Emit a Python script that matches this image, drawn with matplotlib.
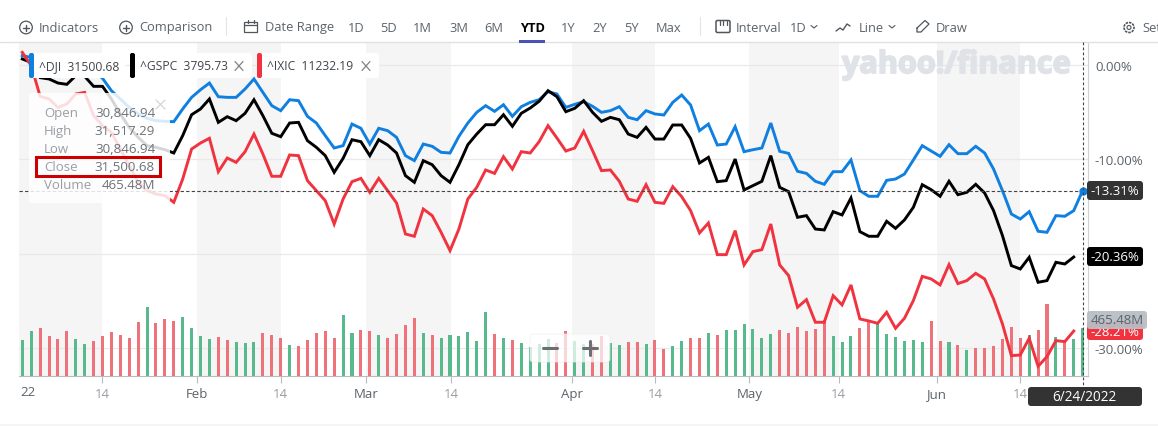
import matplotlib
matplotlib.use("Agg")
import matplotlib.pyplot as plt
import matplotlib.patheffects as pe
from matplotlib.patches import Circle, FancyBboxPatch, Rectangle

plt.rcParams['font.family'] = ['Open Sans', 'DejaVu Sans']

# percent change since the start of the year, one value per trading day
dji = [0.99, 0.81, 0.28, 0.11, -0.25, -0.25, 0.28, 0.11, -0.60, -1.41,
       -2.72, -3.60, -4.49, -5.19, -5.65, -5.90, -5.97, -6.01, -4.66, -3.43,
       -2.62, -1.91, -3.36, -3.43, -3.43, -2.54, -1.48, -2.90, -4.31, -4.84,
       -3.68, -3.78, -5.44, -6.15, -7.49, -8.80, -8.55, -6.26, -6.71, -8.38,
       -6.71, -6.96, -7.67, -9.61, -10.14, -8.38, -8.62, -9.26, -9.33, -7.56,
       -6.15, -5.02, -4.31, -4.91, -4.21, -5.44, -4.42, -3.96, -3.68, -2.83,
       -3.07, -4.49, -4.17, -3.89, -4.38, -5.02, -4.84, -4.42, -5.55, -5.80,
       -4.84, -5.19, -5.30, -3.96, -3.18, -4.24, -6.96, -6.26, -8.48, -8.38,
       -6.54, -9.19, -8.98, -8.80, -6.15, -9.15, -9.37, -11.27, -11.49, -12.33,
       -12.65, -11.31, -11.31, -10.07, -13.32, -13.92, -13.92, -12.23, -12.09, -11.56,
       -10.07, -8.55, -9.12, -9.68, -8.45, -9.40, -9.40, -8.62, -9.33, -11.03,
       -13.32, -15.80, -16.33, -15.55, -17.63, -17.74, -15.97, -16.04, -15.44, -13.31]
gspc = [0.64, 0.28, -1.34, -1.48, -1.91, -2.05, -1.13, -1.20, -2.26, -2.26,
        -3.60, -5.19, -6.61, -7.67, -8.55, -8.73, -8.98, -9.33, -7.49, -5.27,
        -4.66, -3.60, -6.08, -5.48, -5.90, -5.12, -3.68, -5.37, -7.24, -7.60,
        -6.15, -6.08, -8.02, -8.73, -9.61, -11.38, -9.90, -7.92, -8.13, -9.61,
        -7.92, -8.48, -9.33, -11.73, -12.44, -10.14, -10.57, -11.73, -12.44, -10.57,
        -8.45, -7.32, -6.33, -6.33, -5.27, -6.50, -5.12, -4.56, -3.85, -2.72,
        -3.36, -4.95, -4.59, -3.78, -5.02, -5.97, -5.55, -5.80, -7.32, -7.67,
        -6.61, -7.85, -7.85, -6.36, -6.36, -7.78, -10.39, -9.79, -12.37, -12.26,
        -9.97, -13.25, -12.79, -12.33, -9.61, -12.97, -13.43, -16.15, -15.97, -17.39,
        -17.49, -15.55, -15.90, -14.10, -17.67, -18.16, -18.16, -16.57, -17.32, -16.43,
        -15.09, -12.69, -13.22, -13.92, -12.33, -13.75, -13.50, -12.65, -13.57, -15.44,
        -18.09, -21.27, -21.63, -20.39, -23.04, -22.86, -20.92, -21.10, -20.36]
ixic = [1.34, -0.07, -3.32, -3.60, -4.49, -4.13, -3.07, -2.90, -5.37, -6.43,
        -7.14, -8.91, -10.67, -12.44, -13.32, -13.68, -13.85, -14.56, -12.09, -8.91,
        -8.27, -7.77, -11.31, -9.86, -10.32, -9.19, -7.32, -9.44, -11.80, -11.80,
        -9.54, -9.61, -12.26, -13.32, -14.38, -16.86, -14.21, -12.37, -12.02, -13.50,
        -12.02, -13.32, -14.63, -17.92, -18.16, -15.27, -15.97, -17.74, -19.68, -17.39,
        -14.21, -12.97, -11.13, -11.49, -9.72, -11.03, -9.19, -9.33, -8.13, -6.43,
        -7.74, -9.12, -8.80, -7.03, -9.08, -11.20, -11.13, -12.33, -14.21, -14.45,
        -12.69, -14.56, -14.67, -12.90, -13.96, -15.44, -17.81, -16.75, -20.11, -20.11,
        -17.56, -21.20, -19.79, -19.58, -16.86, -21.20, -22.33, -25.69, -24.88, -27.28,
        -27.28, -24.46, -25.44, -23.32, -26.93, -27.14, -27.39, -26.22, -27.92, -26.86,
        -24.98, -22.41, -22.69, -23.32, -21.17, -23.18, -22.86, -22.09, -22.69, -24.81,
        -27.46, -30.82, -30.75, -28.98, -31.95, -30.92, -29.23, -29.33, -28.21]

# volume in millions, and whether the day closed up (G) or down (R)
volume = [353, 437, 465, 388, 360, 437, 360, 311, 340, 388,
          427, 398, 369, 523, 668, 514, 552, 533, 571, 465,
          388, 360, 379, 350, 331, 321, 331, 417, 398, 369,
          302, 292, 350, 417, 437, 369, 591, 417, 446, 437,
          398, 369, 408, 494, 562, 417, 398, 369, 398, 388,
          427, 340, 620, 408, 369, 350, 321, 282, 311, 360,
          321, 437, 340, 311, 311, 388, 321, 302, 331, 331,
          311, 350, 263, 292, 340, 369, 369, 417, 398, 446,
          446, 504, 456, 369, 408, 446, 417, 475, 437, 456,
          542, 388, 331, 388, 465, 523, 504, 408, 379, 340,
          350, 331, 533, 340, 331, 302, 254, 273, 273, 292,
          360, 475, 369, 398, 446, 697, 379, 340, 360, 465]
vol_dir = ("GGRRRRGGRR" "RRRRGRRRGG" "GGRRGGGRRR" "GRRRRRGGRR"
           "GRRRRGRGGG" "GGGRGRGGGG" "RRGGRRGGRR" "GRRGGRRGRG"
           "GGGGGRRRRR" "RGGGRRGGGG" "GGRRGRGRRR" "RRRGRRGRGG")

tick_pos = [9, 19.64, 29, 38.6, 48.15, 61.66, 71.04, 81.6, 91.6, 102.6, 112]
tick_labels = ["14", "Feb", "14", "Mar", "14", "Apr", "14", "May", "14", "Jun", "14"]
band_edges = [(-0.34, 9), (19.64, 29), (38.6, 48.15), (61.66, 71.04), (81.6, 91.6), (102.6, 112)]
pct_ticks = [0, -10, -20, -30]
pct_labels = ["0.00%", "-10.00%", "", "-30.00%"]  # the -20 label sits behind the flag

BLUE = "#0f7fe0"
RED = "#f0333f"
GREY = "#5b636a"

fig = plt.figure(figsize=(11.58, 4.27), dpi=100)
W, H = 1158, 427
pos = [19.3 / W, 1 - 377.3 / H, (1088 - 19.3) / W, (377.3 - 43.3) / H]
x_range = (-0.337, 119.6)
pct_range = (-33.01, 2.41)

# bands and grid at the very bottom, then volume, then the lines
ax_bg = fig.add_axes(pos)
ax_bg.set_xlim(*x_range)
ax_bg.set_ylim(*pct_range)
ax_bg.axis("off")
for a, b in band_edges:
    ax_bg.axvspan(a, b, color="#f5f5f5", lw=0, zorder=0)
for v in pct_ticks:
    ax_bg.axhline(v, color="#e9e9e9", lw=0.9, zorder=1)

ax_vol = fig.add_axes(pos)
ax_vol.set_xlim(*x_range)
ax_vol.set_ylim(0, 3218)
ax_vol.axis("off")
bar_colors = ["#58b98d" if d == "G" else "#ed7279" for d in vol_dir]
ax_vol.bar(range(len(volume)), volume, width=0.34, color=bar_colors, zorder=2)

ax = fig.add_axes(pos)
ax.patch.set_visible(False)
ax.set_xlim(*x_range)
ax.set_ylim(*pct_range)
ax.plot(dji, color=BLUE, lw=2.1, solid_joinstyle="miter", zorder=3)
ax.plot(gspc, color="black", lw=2.1, solid_joinstyle="miter", zorder=4)
ax.plot(ixic, color=RED, lw=2.1, solid_joinstyle="miter", zorder=5)
ax.axhline(dji[-1], color="#444444", lw=0.8, ls=(0, (3, 2)), zorder=6)
ax.plot([len(dji) - 1], [dji[-1]], "o", color=BLUE, ms=5, zorder=7, clip_on=False)

ax.set_xticks(tick_pos)
ax.set_xticklabels(tick_labels)
ax.tick_params(axis="x", length=5, width=0.8, color="#b8bcc0", pad=2.5, labelsize=9.5)
for lab in ax.get_xticklabels():
    lab.set_color("#999da1" if lab.get_text() == "14" else GREY)
ax.yaxis.tick_right()
ax.set_yticks(pct_ticks)
ax.set_yticklabels(pct_labels)
ax.tick_params(axis="y", length=0, pad=5, labelsize=9.5, labelcolor=GREY)
for s in ["top", "left"]:
    ax.spines[s].set_visible(False)
ax.spines["right"].set_color("#cfd2d5")
ax.spines["bottom"].set_color("#b8bcc0")

# everything else is page furniture, placed in pixels on a full overlay
ov = fig.add_axes([0, 0, 1, 1], zorder=10)
ov.set_xlim(0, W)
ov.set_ylim(H, 0)
ov.axis("off")


def box(x0, y0, x1, y1, color, alpha=1.0, round_=3, ec="none", lw=0, z=2):
    ov.add_patch(FancyBboxPatch((x0, y0), x1 - x0, y1 - y0, boxstyle="round,pad=0,rounding_size=%s" % round_,
                                fc=color, ec=ec, lw=lw, alpha=alpha, zorder=z))


def label(x, y, s, color=GREY, size=9.3, ha="left", weight="normal", z=3):
    return ov.text(x, y, s, color=color, fontsize=size, ha=ha, va="center", fontweight=weight, zorder=z)


def stroke(xs, ys, color="#50565c", lw=1.0, ls="-", z=3):
    ov.plot(xs, ys, color=color, lw=lw, ls=ls, zorder=z, solid_capstyle="round")


# toolbar
stroke([0, W], [43.3, 43.3], "#dfe1e3", 1.0, z=1)
stroke([226, 226], [18, 36], "#e3e5e7", 0.8)
stroke([699.5, 699.5], [18, 36], "#e3e5e7", 0.8)
ov.add_patch(Rectangle((519, 41), 26, 2.6, fc="#4b52b5", ec="none", zorder=3))

for cx, txt, tx in [(26, "Indicators", 39), (126, "Comparison", 139)]:
    ov.add_patch(Circle((cx, 28.5), 6.3, fc="none", ec="#50565c", lw=0.9))
    stroke([cx - 3, cx + 3], [28.5, 28.5])
    stroke([cx, cx], [25.5, 31.5])
    label(tx, 28, txt)

ov.add_patch(Rectangle((244, 22.5), 13, 10, fc="none", ec="#50565c", lw=0.9))
stroke([244, 257], [25.5, 25.5], lw=0.9)
stroke([247.5, 247.5], [21, 24], lw=0.9)
stroke([253.5, 253.5], [21, 24], lw=0.9)
label(265, 28, "Date Range")

for x, txt in [(348, "1D"), (380, "5D"), (413, "1M"), (449, "3M"), (484, "6M"),
               (561, "1Y"), (592, "2Y"), (624, "5Y"), (656, "Max")]:
    label(x, 28, txt)
label(520, 28, "YTD", color="black", weight="bold")

ov.add_patch(FancyBboxPatch((716, 21.5), 14, 12, boxstyle="round,pad=0,rounding_size=1.5", fc="none", ec="#50565c", lw=1.1))
for x in [719.5, 723, 726.5]:
    stroke([x, x], [21.5, 25.5], lw=0.9)
label(736, 28, "Interval")
label(790, 28, "1D")
stroke([811, 814, 817], [26.5, 29, 26.5], lw=0.8)
stroke([836, 840, 843, 847, 850], [32, 29, 31, 25, 27], lw=1.0)
label(859, 28, "Line")
stroke([889, 892, 895], [26.5, 29, 26.5], lw=0.8)
stroke([917, 925, 929, 921, 917, 917], [29, 21.5, 25, 33, 33, 29], lw=0.9)
label(936, 28, "Draw")
ov.add_patch(Circle((1129, 28.5), 5, fc="none", ec="#50565c", lw=1.2, ls=(0, (1.5, 0.6))))
ov.add_patch(Circle((1129, 28.5), 2, fc="none", ec="#50565c", lw=0.8))
label(1142, 28, "Set")

# watermark
wm = label(842, 66, "yahoo!/finance", color="#dfe2e7", size=22, weight="bold", z=1)
wm.set_path_effects([pe.withStroke(linewidth=1.3, foreground="#dfe2e7")])

# series chips
for x0, x1, col, name, val, has_x in [(29, 125, BLUE, "^DJI", "31500.68", False),
                                      (130, 252, "black", "^GSPC", "3795.73", True),
                                      (257, 379, RED, "^IXIC", "11232.19", True)]:
    box(x0, 54, x1, 79, "white")
    box(x0, 54, x0 + 5, 79, col, round_=2)
    label(x0 + 10, 67, name + "  " + val, color="#3f454b", size=8.7)
    if has_x:
        stroke([x1 - 17, x1 - 9], [62.5, 71.5], "#7d8389", 0.9)
        stroke([x1 - 17, x1 - 9], [71.5, 62.5], "#7d8389", 0.9)

# hover tooltip
box(29, 94, 170, 204, "white", alpha=0.84, round_=3)
stroke([156, 165], [101, 110], "#d4d6d9", 0.9)
stroke([156, 165], [110, 101], "#d4d6d9", 0.9)
rows = [("Open", "30,846.94"), ("High", "31,517.29"), ("Low", "30,846.94"), ("Close", "31,500.68"), ("Volume", "465.48M")]
for i, (name, val) in enumerate(rows):
    y = 113.5 + 18 * i
    label(44, y, name, color="#9a9ea3", size=9.5)
    label(155, y, val, color="#6d7278", size=9.6, ha="right")
ov.add_patch(Rectangle((35.5, 157.5), 124.5, 19, fc="none", ec="#cc0000", lw=2.2, zorder=4))

# zoom control
box(530, 335, 610, 363, "white", alpha=0.72, round_=3, ec="#eeeeee", lw=0.6)
stroke([543, 557], [348.5, 348.5], "#6b6f73", 2.2, z=4)
stroke([583, 597], [348.5, 348.5], "#6b6f73", 2.2, z=4)
stroke([590, 590], [342, 356], "#6b6f73", 2.2, z=4)

# crosshair and value flags on the right
stroke([1083.3, 1083.3], [43.3, 389], "#444444", 0.8, (0, (2.5, 2)), z=2)
box(1087, 182, 1143, 201, "#333333")
label(1115, 191.5, "-13.31%", color="white", size=9.5, ha="center")
box(1087, 248, 1143, 267, "black")
label(1115, 258, "-20.36%", color="white", size=9.5, ha="center")
box(1087, 323, 1143, 341, RED, z=2)
label(1115, 333, "-28.21%", color="white", size=9.5, ha="center")
box(1087, 312, 1147, 330, "#b9bdc4", alpha=0.95, z=4)
label(1117, 321, "465.48M", color="#5b636a", size=9.5, ha="center", z=5)
box(1028, 388, 1142, 407, "#333333", z=4)
label(1084, 397.5, "6/24/2022", color="white", size=9.8, ha="center", z=5)

# thin band at the page bottom
ov.add_patch(Rectangle((0, 425), W, 2, fc="#f5f5f6", ec="none", zorder=1))
label(20, 393, "22", color=GREY, size=9.5)

fig.savefig("out.png", dpi=100)
